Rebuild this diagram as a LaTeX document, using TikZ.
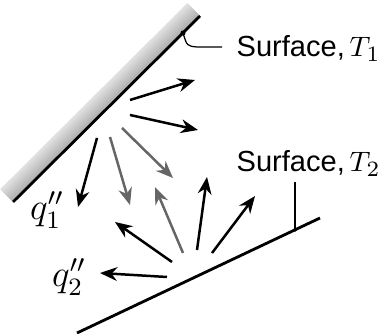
\documentclass[tikz,border=0pt]{standalone}
\usepackage{fontspec}
\newfontfamily\labelfont{Liberation Sans}
\usetikzlibrary{arrows.meta, calc}

\begin{document}
\begin{tikzpicture}[x=0.32pt, y=-0.32pt, >={Stealth[length=5.5pt, width=4.4pt]},
    flux/.style={->, line width=0.8pt},
    faint/.style={flux, black!60},
    wall/.style={line width=0.9pt},
    leader/.style={line width=0.4pt},
    tag/.style={font=\labelfont\fontsize{9.3}{11}\selectfont, inner sep=0pt, anchor=base west}]
  \useasboundingbox (0,0) rectangle (386,334);

  % surface 1, shaded on its back side
  \coordinate (p1) at (13,202);
  \coordinate (p2) at (200,16);
  \foreach \k in {1,...,12}{
    \pgfmathsetmacro{\tone}{66-3.4*\k}
    \draw[gray!\tone, line width=0.7pt]
      ($(p1)+(-\k,-\k)$) -- ($(p2)+(-\k,-\k)$);
  }
  \draw[wall] (p1) -- (p2);

  % surface 2
  \coordinate (r1) at (77,333);
  \coordinate (r2) at (320,218);
  \draw[wall] (r1) -- (r2);

  % labels
  \node[tag] (s1) at (236,57)  {Surface,\,$T_1$};
  \node[tag] (s2) at (236,172) {Surface,\,$T_2$};
  \node[font=\large] (q1) at (47,210) {$q''_1$};
  \node[font=\large] (q2) at (69,277) {$q''_2$};

  % leaders
  \coordinate (d1) at (183,33);
  \coordinate (e1) at (222,47);
  \coordinate (d2) at (295,230);
  \coordinate (e2) at (295,182);
  \fill (d1) circle[radius=0.8pt];
  \fill (d2) circle[radius=0.6pt];
  \draw[leader] (d1) .. controls (187,46) .. (197,47) -- (e1);
  \draw[leader] (d2) -- (e2);

  % fluxes leaving surface 1
  \coordinate (a0) at (130,100); \coordinate (a1) at (195,80);
  \coordinate (b0) at (130,115); \coordinate (b1) at (198,130);
  \coordinate (c0) at (122,128); \coordinate (c1) at (173,178);
  \coordinate (d0) at (97,138);  \coordinate (dd1) at (78,207);
  \coordinate (f0) at (110,137); \coordinate (f1) at (130,205);
  \draw[flux]  (a0) -- (a1);
  \draw[flux]  (b0) -- (b1);
  \draw[faint] (c0) -- (c1);
  \draw[flux]  (d0) -- (dd1);
  \draw[faint] (f0) -- (f1);

  % fluxes leaving surface 2
  \coordinate (g0) at (167,277); \coordinate (g1) at (100,273);
  \coordinate (h0) at (172,262); \coordinate (h1) at (115,222);
  \coordinate (i0) at (183,253); \coordinate (i1) at (155,187);
  \coordinate (j0) at (197,250); \coordinate (j1) at (207,177);
  \coordinate (k0) at (212,253); \coordinate (k1) at (255,196);
  \draw[flux]  (g0) -- (g1);
  \draw[flux]  (h0) -- (h1);
  \draw[faint] (i0) -- (i1);
  \draw[flux]  (j0) -- (j1);
  \draw[flux]  (k0) -- (k1);
\end{tikzpicture}
\end{document}
